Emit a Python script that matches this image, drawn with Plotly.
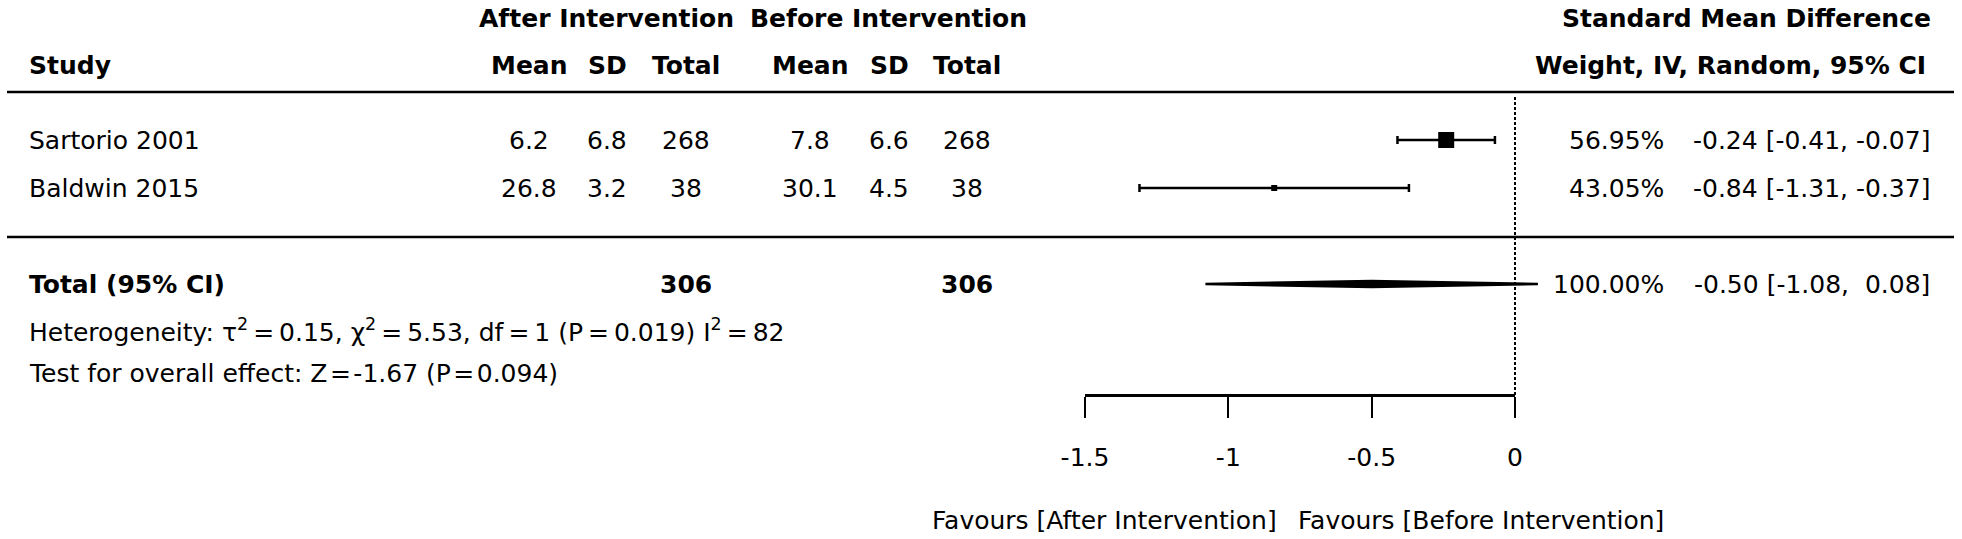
import plotly.graph_objects as go

# ---------------- data ----------------
studies = ["Sartorio 2001", "Baldwin 2015"]
after_mean = [6.2, 26.8]
after_sd = [6.8, 3.2]
after_total = [268, 38]
before_mean = [7.8, 30.1]
before_sd = [6.6, 4.5]
before_total = [268, 38]
weights = [56.95, 43.05]
smd = [-0.24, -0.84]
ci_low = [-0.41, -1.31]
ci_high = [-0.07, -0.37]

pooled_label = "Total (95% CI)"
pooled_after_total = 306
pooled_before_total = 306
pooled_weight = 100.00
pooled_smd = -0.50
pooled_low = -1.08
pooled_high = 0.08

het_tau2 = 0.15
het_chi2 = 5.53
het_df = 1
het_p = 0.019
het_i2 = 82
z_value = -1.67
z_p = 0.094

tick_values = [-1.5, -1, -0.5, 0]
tick_labels = ["-1.5", "-1", "-0.5", "0"]
favours_left = "Favours [After Intervention]"
favours_right = "Favours [Before Intervention]"

# ---------------- layout constants (pixels) ----------------
W, H = 1962, 539
X0, X1 = 1085, 1515          # pixel positions of -1.5 and 0
PPU = (X1 - X0) / 1.5
XR = [-1.5 - X0 / PPU, -1.5 + (W - X0) / PPU]

FONT = "DejaVu Sans"
FS = 25
BLACK = "#000000"

row_y = [140, 188]
total_y = 284
het_y = 330
test_y = 373
hdr1_y = 18
hdr2_y = 65
line1_y = 92
line2_y = 237
axis_y = 395

col_x = [529, 607, 686, 810, 889, 967]
weight_right = 1666
ci_right = 1932
left_x = 27

marker_sizes = [16, 6]

EQ_WIDE = "\u2009=\u2009"    # math-style spaced equals sign
EQ = "\u200a=\u200a"         # slightly spaced equals sign


def px(x):
    return x / W


annotations = []


def txt(text, x, y, anchor="center", bold=False):
    annotations.append(dict(
        text=f"<b>{text}</b>" if bold else text,
        x=px(x), xref="paper", y=y, yref="y",
        xanchor=anchor, yanchor="middle", showarrow=False,
        font=dict(family=FONT, size=FS, color=BLACK),
    ))


# headers
txt("After Intervention", 606, hdr1_y, bold=True)
txt("Before Intervention", 888, hdr1_y, bold=True)
txt("Standard Mean Difference", 1933, hdr1_y, "right", bold=True)
txt("Study", left_x, hdr2_y, "left", bold=True)
for x, h in zip(col_x, ["Mean", "SD", "Total", "Mean", "SD", "Total"]):
    txt(h, x, hdr2_y, bold=True)
txt("Weight, IV, Random, 95% CI", 1928, hdr2_y, "right", bold=True)

# study rows
for i, name in enumerate(studies):
    y = row_y[i]
    txt(name, left_x, y, "left")
    vals = [after_mean[i], after_sd[i], after_total[i],
            before_mean[i], before_sd[i], before_total[i]]
    for x, v in zip(col_x, vals):
        txt(str(v), x, y)
    txt(f"{weights[i]:.2f}%", weight_right, y, "right")
    txt(f"{smd[i]:.2f} [{ci_low[i]:5.2f}, {ci_high[i]:5.2f}]".replace(" ", "\u00a0"),
        ci_right, y, "right")

# total row
txt(pooled_label, left_x, total_y, "left", bold=True)
txt(str(pooled_after_total), col_x[2], total_y, bold=True)
txt(str(pooled_before_total), col_x[5], total_y, bold=True)
txt(f"{pooled_weight:.2f}%", weight_right, total_y, "right")
txt(f"{pooled_smd:.2f} [{pooled_low:5.2f}, {pooled_high:5.2f}]".replace(" ", "\u00a0"),
    ci_right, total_y, "right")

het_text = (f"Heterogeneity: τ<sup>2</sup>{EQ_WIDE}{het_tau2:.2f}, χ<sup>2</sup>{EQ_WIDE}{het_chi2:.2f},"
            f" df{EQ_WIDE}{het_df} (P{EQ_WIDE}{het_p}) I<sup>2</sup>{EQ_WIDE}{het_i2}")
txt(het_text, left_x, het_y, "left")
txt(f"Test for overall effect: Z{EQ}{z_value:.2f} (P{EQ}{z_p})", left_x, test_y, "left")

txt(favours_left, 1279, 520, "right")
txt(favours_right, 1296, 520, "left")

fig = go.Figure()

# study estimates with CIs
fig.add_trace(go.Scatter(
    x=smd, y=row_y, mode="markers",
    marker=dict(symbol="square", size=marker_sizes, color=BLACK, opacity=1,
                line=dict(width=0)),
    error_x=dict(type="data", symmetric=False,
                 array=[h - e for h, e in zip(ci_high, smd)],
                 arrayminus=[e - l for e, l in zip(smd, ci_low)],
                 color=BLACK, thickness=2.5, width=4),
    hoverinfo="skip", showlegend=False,
))

# pooled diamond
dh = 3
fig.add_trace(go.Scatter(
    x=[pooled_low, pooled_smd, pooled_high, pooled_smd, pooled_low],
    y=[total_y, total_y - dh, total_y, total_y + dh, total_y],
    mode="lines", fill="toself", fillcolor=BLACK,
    line=dict(color=BLACK, width=2.5),
    hoverinfo="skip", showlegend=False,
))

# invisible trace to activate the display axis (own subplot x2/y)
fig.add_trace(go.Scatter(x=tick_values, y=[axis_y] * len(tick_values),
                         xaxis="x2", yaxis="y", mode="markers",
                         marker=dict(opacity=0), hoverinfo="skip",
                         showlegend=False))

shapes = [
    dict(type="line", xref="paper", yref="y", x0=px(7), x1=px(1954),
         y0=line1_y, y1=line1_y, line=dict(color=BLACK, width=2.5)),
    dict(type="line", xref="paper", yref="y", x0=px(7), x1=px(1954),
         y0=line2_y, y1=line2_y, line=dict(color=BLACK, width=2.5)),
    dict(type="line", xref="x", yref="y", x0=0, x1=0, y0=97, y1=axis_y,
         line=dict(color=BLACK, width=2, dash="3px,2px")),
]

fig.update_layout(
    template="none",
    width=W, height=H, margin=dict(l=0, r=0, t=0, b=0, pad=0),
    autosize=False,
    paper_bgcolor="white", plot_bgcolor="rgba(0,0,0,0)",
    font=dict(family=FONT, size=FS, color=BLACK),
    xaxis=dict(range=XR, domain=[0, 1], visible=False, fixedrange=True,
               automargin=False),
    xaxis2=dict(range=[-1.5, 0], domain=[px(X0), px(X1)],
                anchor="free", position=1 - axis_y / H, side="bottom",
                showline=True, linecolor=BLACK, linewidth=2.5,
                ticks="outside", ticklen=21, tickwidth=2, tickcolor=BLACK,
                tickvals=tick_values, ticktext=tick_labels,
                tickfont=dict(family=FONT, size=FS, color=BLACK),
                ticklabelstandoff=18, automargin=False,
                showgrid=False, zeroline=False, fixedrange=True),
    yaxis=dict(range=[H, 0], domain=[0, 1], visible=False, fixedrange=True,
               automargin=False),
    shapes=shapes, annotations=annotations,
)

fig.write_html("out.html", config={"displayModeBar": False},
               post_script="document.body.style.margin='0';document.body.style.overflow='hidden';")
